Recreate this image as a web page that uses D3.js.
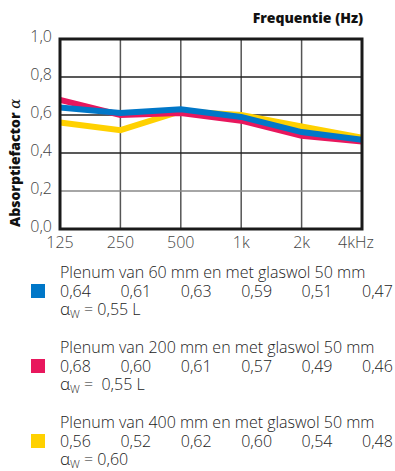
<!DOCTYPE html>
<html>
<head>
<meta charset="utf-8">
<script src="https://cdn.jsdelivr.net/npm/d3@7"></script>
<style>
  body { margin: 0; background: #fff; }
  svg text { font-family: "Open Sans", Lato, sans-serif; }
</style>
</head>
<body>
<div class="chart"></div>
<script>
// DATA
var freqs = ["125", "250", "500", "1k", "2k", "4kHz"]
var yTicks = [0, 0.2, 0.4, 0.6, 0.8, 1.0]
var names = ["Plenum van 60 mm en met glaswol 50 mm",
             "Plenum van 200 mm en met glaswol 50 mm",
             "Plenum van 400 mm en met glaswol 50 mm"]
var plenum60 = [0.64, 0.61, 0.63, 0.59, 0.51, 0.47]
var plenum200 = [0.68, 0.60, 0.61, 0.57, 0.49, 0.46]
var plenum400 = [0.56, 0.52, 0.62, 0.60, 0.54, 0.48]
var alphaW = ["= 0,55 L", "=  0,55 L", "= 0,60"]
var colors = ["#0077c8", "#e8175d", "#ffd100"]

var w = 395, h = 471
var margin = {left: 60, right: 33, top: 39, bottom: 242}

var svg = d3.select(".chart").append("svg")
    .attr("width", w)
    .attr("height", h)

var x = d3.scalePoint().domain(freqs).range([margin.left, w - margin.right])
var y = d3.scaleLinear().domain([0, 1]).range([h - margin.bottom, margin.top])

var comma = function(v, f) { return d3.format(f)(v).replace(".", ",") }

// GRID
var grid = svg.append("g").attr("class", "grid")
grid.selectAll("line.v")
    .data(freqs.slice(1, -1))
    .enter().append("line")
    .attr("class", "v")
    .attr("x1", function(d) { return x(d) })
    .attr("x2", function(d) { return x(d) })
    .attr("y1", y(1))
    .attr("y2", y(0))
    .attr("stroke", "#555")
    .attr("stroke-width", 1.5)

grid.selectAll("line.h")
    .data(yTicks.slice(1, -1))
    .enter().append("line")
    .attr("class", "h")
    .attr("x1", x.range()[0])
    .attr("x2", x.range()[1])
    .attr("y1", function(d) { return y(d) })
    .attr("y2", function(d) { return y(d) })
    .attr("stroke", function(d) { return d == 0.2 ? "#888" : "#222" })
    .attr("stroke-width", 1.5)

// LINES (yellow first, blue on top)
var series = [plenum60, plenum200, plenum400]
var line = d3.line()
    .x(function(d, i) { return x(freqs[i]) })
    .y(function(d) { return y(d) })

svg.append("g").selectAll("path")
    .data([2, 1, 0])
    .enter().append("path")
    .attr("d", function(k) { return line(series[k]) })
    .attr("fill", "none")
    .attr("stroke", function(k) { return colors[k] })
    .attr("stroke-width", 6)
    .attr("stroke-linejoin", "miter")

// FRAME
svg.append("rect")
    .attr("x", x.range()[0])
    .attr("y", y(1))
    .attr("width", x.range()[1] - x.range()[0])
    .attr("height", y(0) - y(1))
    .attr("fill", "none")
    .attr("stroke", "#1a1a1a")
    .attr("stroke-width", 3)

// Y TICK LABELS
svg.append("g").selectAll("text")
    .data(yTicks)
    .enter().append("text")
    .attr("x", 52)
    .attr("y", function(d) { return y(d) })
    .attr("dy", "0.2em")
    .attr("text-anchor", "end")
    .attr("font-size", 16)
    .attr("font-weight", 300)
    .attr("fill", "#444")
    .text(function(d) { return comma(d, ".1f") })

// X TICK LABELS
svg.append("g").selectAll("text")
    .data(freqs)
    .enter().append("text")
    .attr("x", function(d, i) { return x(d) + (i == freqs.length - 1 ? -6 : 0) })
    .attr("y", 248)
    .attr("text-anchor", "middle")
    .attr("font-size", 16)
    .attr("font-weight", 300)
    .attr("fill", "#444")
    .text(function(d) { return d })

// AXIS TITLES
svg.append("text")
    .attr("x", 363)
    .attr("y", 23)
    .attr("text-anchor", "end")
    .attr("font-size", 14)
    .attr("font-weight", 800)
    .attr("fill", "#111")
    .text("Frequentie (Hz)")

var yt = svg.append("text")
    .attr("transform", "translate(20,227) rotate(-90)")
    .attr("font-size", 14)
    .attr("fill", "#111")
yt.append("tspan").attr("font-weight", 800).text("Absorptiefactor ")
yt.append("tspan").attr("font-family", "DejaVu Serif").attr("font-style", "italic").attr("font-size", 15).text("α")

// LEGEND
var leg = svg.append("g").attr("class", "legend")
var groups = leg.selectAll("g")
    .data([0, 1, 2])
    .enter().append("g")
    .attr("transform", function(k) { return "translate(0," + (k * 75) + ")" })

groups.append("rect")
    .attr("x", 31)
    .attr("y", 284)
    .attr("width", 14)
    .attr("height", 14)
    .attr("fill", function(k) { return colors[k] })

var txt = function(g) {
  return g.attr("font-size", 16).attr("font-weight", 300).attr("fill", "#222")
}
groups.append("text")
    .attr("x", 60)
    .attr("y", 278)
    .call(txt)
    .text(function(k) { return names[k] })

groups.each(function(k) {
  d3.select(this).selectAll("text.val")
      .data(series[k])
      .enter().append("text")
      .attr("class", "val")
      .attr("x", function(d, i) { return x(freqs[i]) })
      .attr("y", 297)
      .call(txt)
      .text(function(d) { return comma(d, ".2f") })
})

var aw = groups.append("text")
    .attr("x", 60)
    .attr("y", 315)
    .call(txt)
aw.append("tspan").attr("font-size", 17).text("α")
aw.append("tspan").attr("font-size", 11).attr("dy", 3).text("W")
aw.append("tspan").attr("dy", -3).text(function(k) { return " " + alphaW[k] })
    .attr("xml:space", "preserve")
</script>
</body>
</html>
